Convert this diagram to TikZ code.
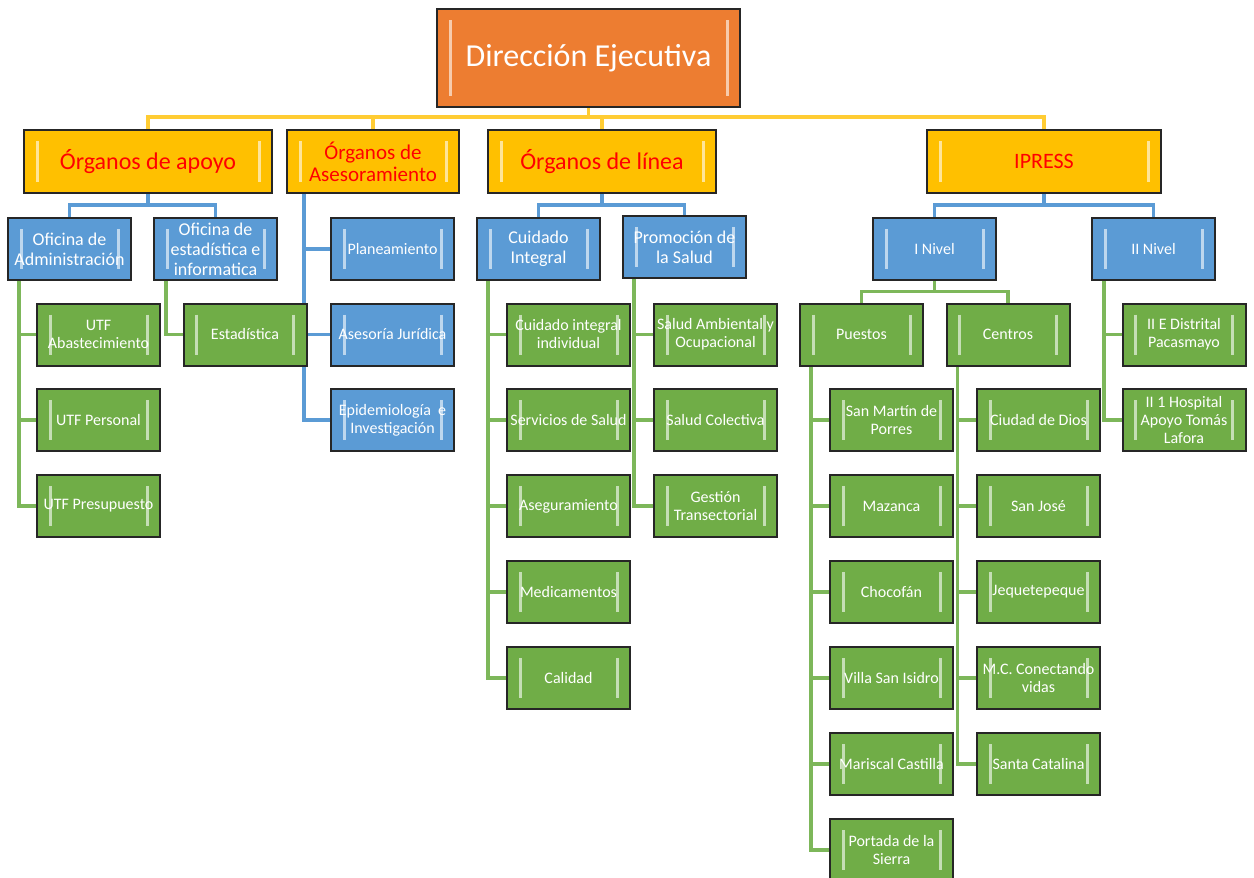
\documentclass[tikz,border=0pt]{standalone}
\usepackage{fontspec}
\setmainfont{Carlito}
\usetikzlibrary{backgrounds}
\definecolor{cOr}{HTML}{ED7D31}
\definecolor{cYe}{HTML}{FFC000}
\definecolor{cBl}{HTML}{5B9BD5}
\definecolor{cGr}{HTML}{70AD47}
\definecolor{lnYe}{HTML}{FFCC33}
\definecolor{lnBl}{HTML}{5B9BD5}
\definecolor{lnGr}{HTML}{7DB75A}
\definecolor{bord}{HTML}{262626}
\tikzset{
  x=1pt, y=-1pt,
  box/.style={draw=bord, line width=2pt, inner sep=1pt, align=center, text=white,
    minimum width=123pt, minimum height=62pt,
    path picture={
      \draw[white, opacity=0.6, line width=3pt]
        ([xshift=13pt,yshift=-11pt]path picture bounding box.north west) --
        ([xshift=13pt,yshift=11pt]path picture bounding box.south west);
      \draw[white, opacity=0.6, line width=3pt]
        ([xshift=-13pt,yshift=-11pt]path picture bounding box.north east) --
        ([xshift=-13pt,yshift=11pt]path picture bounding box.south east);
    }},
  obox/.style={box, fill=cOr, minimum width=303pt, minimum height=98pt, font=\fontsize{32}{38}\selectfont},
  ybox/.style={box, fill=cYe, text=red, minimum height=63pt, font=\fontsize{24}{26}\selectfont},
  bbox/.style={box, fill=cBl, font=\fontsize{18}{20}\selectfont},
  bsbox/.style={box, fill=cBl, font=\fontsize{16}{18}\selectfont},
  gbox/.style={box, fill=cGr, font=\fontsize{16}{18}\selectfont},
  ycon/.style={draw=lnYe, line width=3.2pt},
  bcon/.style={draw=lnBl, line width=3.2pt},
  gcon/.style={draw=lnGr, line width=3.2pt},
}
\begin{document}
\begin{tikzpicture}
\useasboundingbox (0,0) rectangle (1254,878);
% top
\node[obox] (de) at (588.5,58) {Dirección Ejecutiva};
% level 1
\node[ybox, minimum width=248pt] (oa) at (148,161.5) {Órganos de apoyo};
\node[ybox, minimum width=172pt, font=\fontsize{21}{22}\selectfont] (oas) at (373,161.5) {Órganos de\\Asesoramiento};
\node[ybox, minimum width=228pt] (ol) at (602,161.5) {Órganos de línea};
\node[ybox, minimum width=234pt, font=\fontsize{22}{24}\selectfont] (ip) at (1044,161.5) {IPRESS};
% level 2
\node[bbox] (ofa) at (69.5,249) {Oficina de\\Administración};
\node[bbox] (ofe) at (215.5,249) {Oficina de\\estadística e\\informatica};
\node[bsbox] (plan) at (392.5,249) {Planeamiento};
\node[bsbox] (asj) at (392.5,334.5) {Asesoría Jurídica};
\node[bsbox] (epi) at (392.5,420) {Epidemiología~ e\\Investigación};
\node[bbox] (ci) at (538.5,249) {Cuidado\\Integral};
\node[bbox] (ps) at (684.5,247) {Promoción de\\la Salud};
\node[bsbox] (n1) at (934.5,249) {I Nivel};
\node[bsbox] (n2) at (1153.5,249) {II Nivel};
% level 3 - apoyo
\node[gbox] (utfa) at (98.5,334.5) {UTF\\Abastecimiento};
\node[gbox] (utfp) at (98.5,420) {UTF Personal};
\node[gbox] (utfr) at (98.5,506) {UTF Presupuesto};
\node[gbox] (est) at (245,334.5) {Estadística};
% cuidado integral
\node[gbox] (ci1) at (568.5,334.5) {Cuidado integral\\individual};
\node[gbox] (ci2) at (568.5,420) {Servicios de Salud};
\node[gbox] (ci3) at (568.5,506) {Aseguramiento};
\node[gbox] (ci4) at (568.5,592) {Medicamentos};
\node[gbox] (ci5) at (568.5,678) {Calidad};
% promocion
\node[gbox] (ps1) at (715.5,334.5) {Salud Ambiental y\\Ocupacional};
\node[gbox] (ps2) at (715.5,420) {Salud Colectiva};
\node[gbox] (ps3) at (715.5,506) {Gestión\\Transectorial};
% I nivel
\node[gbox] (pu) at (861.5,334.5) {Puestos};
\node[gbox] (ce) at (1008,334.5) {Centros};
\node[gbox] (pu1) at (891.5,420) {San Martín de\\Porres};
\node[gbox] (pu2) at (891.5,506) {Mazanca};
\node[gbox] (pu3) at (891.5,592) {Chocofán};
\node[gbox] (pu4) at (891.5,678) {Villa San Isidro};
\node[gbox] (pu5) at (891.5,764) {Mariscal Castilla};
\node[gbox] (pu6) at (891.5,850) {Portada de la\\Sierra};
\node[gbox] (ce1) at (1038.5,420) {Ciudad de Dios};
\node[gbox] (ce2) at (1038.5,506) {San José};
\node[gbox] (ce3) at (1038.5,592) {Jequetepeque};
\node[gbox] (ce4) at (1038.5,678) {M.C. Conectando\\vidas};
\node[gbox] (ce5) at (1038.5,764) {Santa Catalina};
% II nivel
\node[gbox] (h1) at (1184,334.5) {II E Distrital\\Pacasmayo};
\node[gbox] (h2) at (1184,420) {II 1 Hospital\\Apoyo Tomás\\Lafora};

\begin{scope}[on background layer]
% yellow
\draw[ycon] (de.south) -- ++(0,11);
\draw[ycon] (oa.north) -- ++(0,-12) -| (ip.north);
\draw[ycon] (oas.north) -- ++(0,-12);
\draw[ycon] (ol.north) -- ++(0,-12);
% blue
\draw[bcon] (oa.south) -- ++(0,13);
\draw[bcon] (ofa.north) -- ++(0,-12) -| (ofe.north);
\draw[bcon] ([xshift=18]oas.south west) |- (epi.west);
\draw[bcon] ([xshift=18]oas.south west) |- (plan.west);
\draw[bcon] ([xshift=18]oas.south west) |- (asj.west);
\draw[bcon] (ol.south) -- ++(0,13);
\draw[bcon] (ci.north) -- ++(0,-12) -| (ps.north);
\draw[bcon] (ip.south) -- ++(0,13);
\draw[bcon] (n1.north) -- ++(0,-12) -| (n2.north);
% green
\foreach \c in {utfa,utfp,utfr} \draw[gcon] ([xshift=12]ofa.south west) |- (\c.west);
\draw[gcon] ([xshift=13]ofe.south west) |- (est.west);
\foreach \c in {ci1,ci2,ci3,ci4,ci5} \draw[gcon] ([xshift=12]ci.south west) |- (\c.west);
\foreach \c in {ps1,ps2,ps3} \draw[gcon] ([xshift=12]ps.south west) |- (\c.west);
\draw[gcon] (n1.south) -- ++(0,12);
\draw[gcon] (pu.north) -- ++(0,-11) -| (ce.north);
\foreach \c in {pu1,pu2,pu3,pu4,pu5,pu6} \draw[gcon] ([xshift=12]pu.south west) |- (\c.west);
\foreach \c in {ce1,ce2,ce3,ce4,ce5} \draw[gcon] ([xshift=12]ce.south west) |- (\c.west);
\foreach \c in {h1,h2} \draw[gcon] ([xshift=13]n2.south west) |- (\c.west);
\end{scope}
\end{tikzpicture}
\end{document}
